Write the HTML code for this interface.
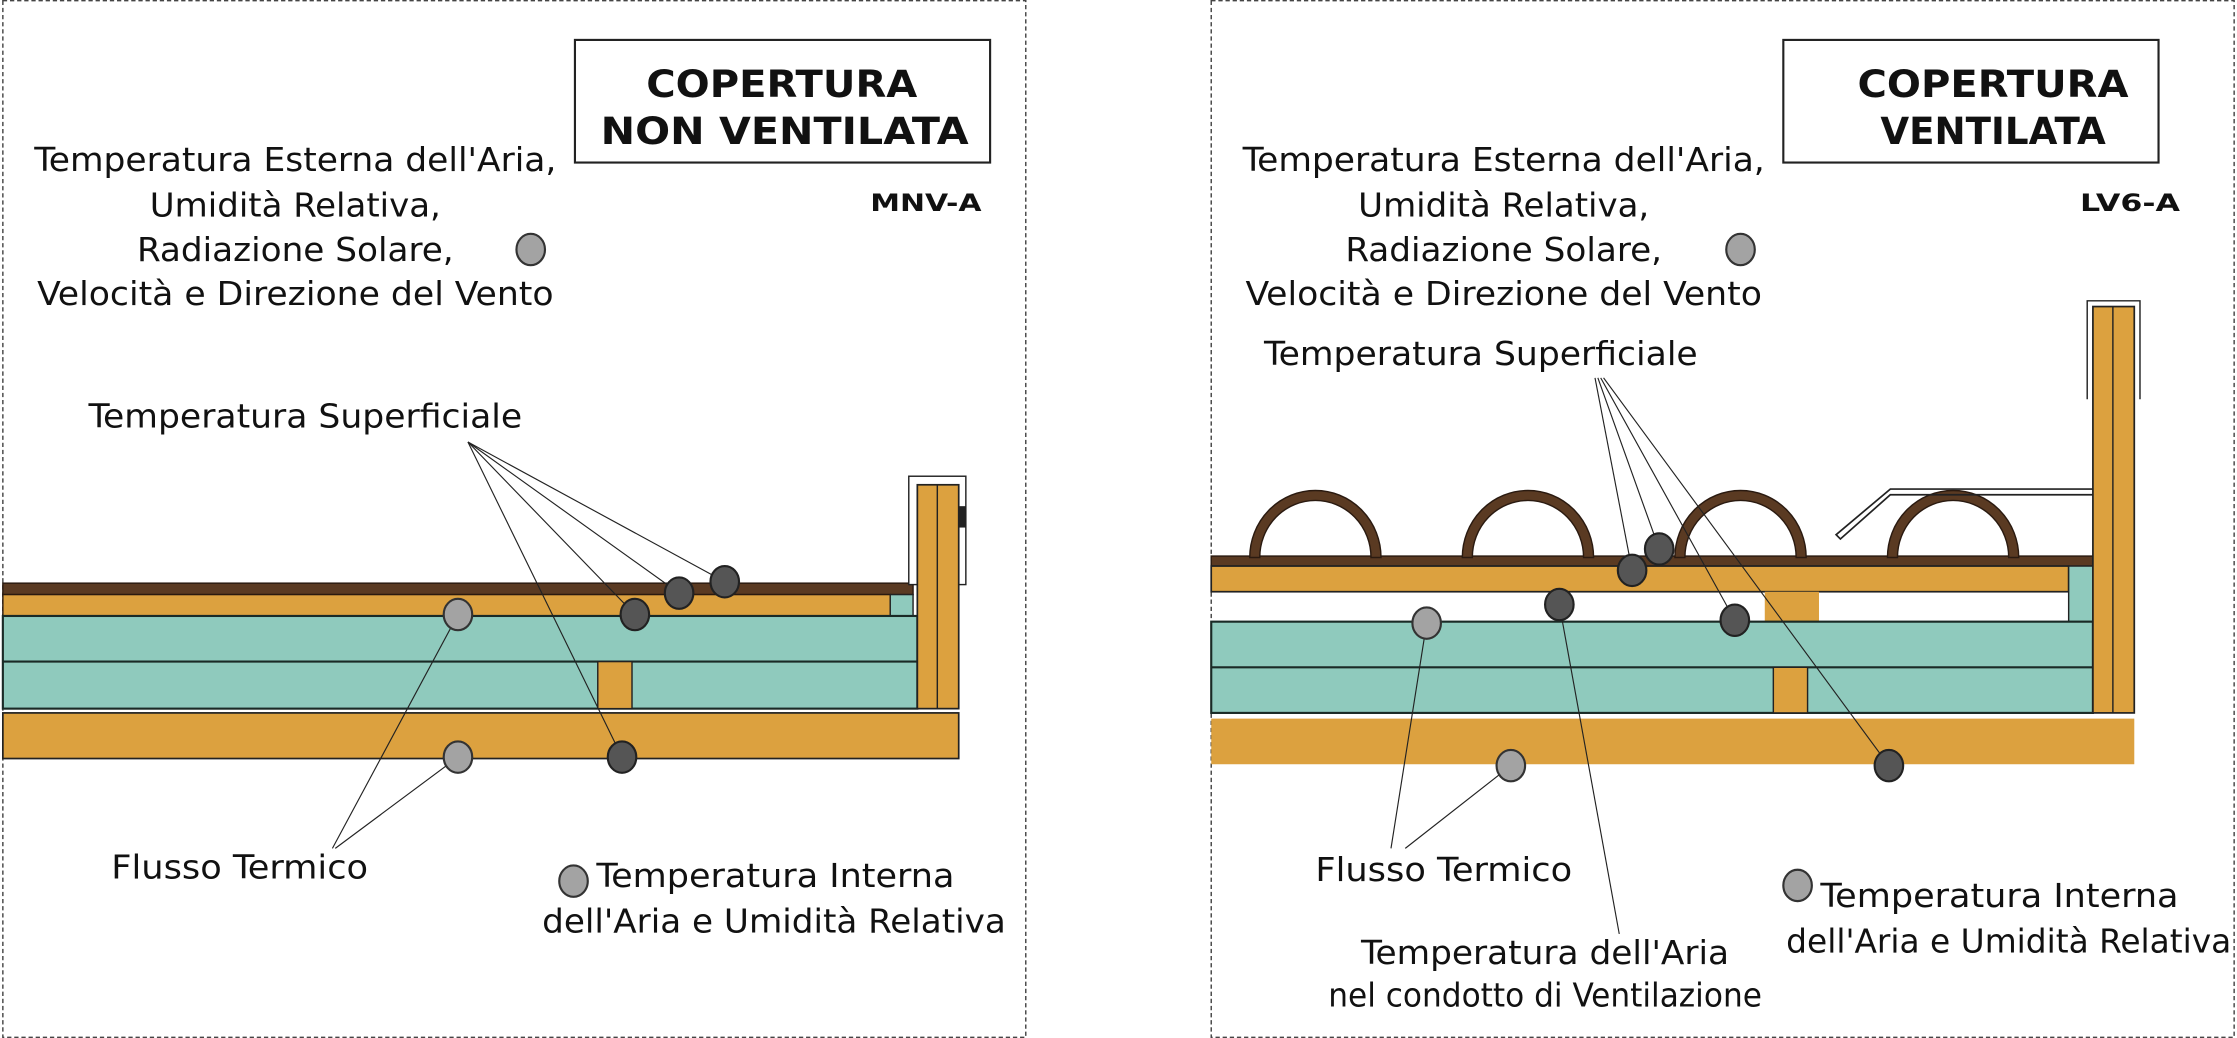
<!DOCTYPE html>
<html><head><meta charset="utf-8"><style>
html,body{margin:0;padding:0;background:#fff}
svg{display:block}
text{font-family:"DejaVu Sans Condensed","DejaVu Sans","Liberation Sans",sans-serif;fill:#111}
.t{font-size:23px}
.b{font-family:"DejaVu Sans","Liberation Sans",sans-serif;font-weight:bold;font-size:26px}
.s{font-family:"DejaVu Sans","Liberation Sans",sans-serif;font-weight:bold;font-size:17px}
</style></head><body>
<svg width="2237" height="1038" viewBox="0 0 1568 728" preserveAspectRatio="none" xmlns="http://www.w3.org/2000/svg">
<defs>
<g id="dl"><ellipse rx="10" ry="11" fill="#a3a3a3" stroke="#333" stroke-width="1.5"/></g>
<g id="dd"><ellipse rx="10" ry="11" fill="#555" stroke="#222" stroke-width="1.5"/></g>
<path id="arch" d="M0 0 A46 47 0 0 1 92 0 L85 0 A39 40 0 0 0 7 0 Z" fill="#5a3a22" stroke="#2a1a10" stroke-width="1"/>
</defs>
<rect x="2" y="0.5" width="717" height="727" fill="none" stroke="#444" stroke-dasharray="3,2" stroke-width="1"/>
<rect x="849" y="0.5" width="717" height="727" fill="none" stroke="#444" stroke-dasharray="3,2" stroke-width="1"/>

<!-- LEFT -->
<rect x="403" y="28" width="291" height="86" fill="#fff" stroke="#222" stroke-width="1.5"/>
<text class="b" x="548" y="68" text-anchor="middle" textLength="190" lengthAdjust="spacingAndGlyphs">COPERTURA</text>
<text class="b" x="550" y="101" text-anchor="middle" textLength="258" lengthAdjust="spacingAndGlyphs">NON VENTILATA</text>
<text class="s" x="610" y="148" textLength="78" lengthAdjust="spacingAndGlyphs">MNV-A</text>
<text class="t" x="207" y="120" text-anchor="middle" textLength="366" lengthAdjust="spacingAndGlyphs">Temperatura Esterna dell'Aria,</text>
<text class="t" x="207" y="152" text-anchor="middle" textLength="204" lengthAdjust="spacingAndGlyphs">Umidità Relativa,</text>
<text class="t" x="207" y="183" text-anchor="middle" textLength="222" lengthAdjust="spacingAndGlyphs">Radiazione Solare,</text>
<text class="t" x="207" y="214" text-anchor="middle" textLength="362" lengthAdjust="spacingAndGlyphs">Velocità e Direzione del Vento</text>
<use href="#dl" x="372" y="175"/>
<text class="t" x="62" y="300" textLength="304" lengthAdjust="spacingAndGlyphs">Temperatura Superficiale</text>

<rect x="2" y="409" width="638" height="8" fill="#5a3a22" stroke="#2a1a10" stroke-width="1"/>
<rect x="2" y="417" width="622" height="15" fill="#dca13f" stroke="#2a1a10" stroke-width="1"/>
<rect x="624" y="417" width="16" height="15" fill="#8fcabd" stroke="#222" stroke-width="1"/>
<rect x="2" y="432" width="641" height="65" fill="#8fcabd" stroke="#1a2a26" stroke-width="1.5"/>
<line x1="2" y1="464" x2="643" y2="464" stroke="#1a2a26" stroke-width="1.5"/>
<rect x="419" y="464" width="24" height="33" fill="#dca13f" stroke="#222" stroke-width="1"/>
<rect x="2" y="500" width="670" height="32" fill="#dca13f" stroke="#222" stroke-width="1.2"/>
<rect x="637" y="334" width="40" height="76" fill="#fff" stroke="#222" stroke-width="1"/>
<rect x="643" y="340" width="29" height="157" fill="#dca13f" stroke="#222" stroke-width="1.2"/>
<line x1="657" y1="340" x2="657" y2="497" stroke="#222" stroke-width="1"/>
<rect x="672" y="355" width="5" height="15" fill="#222"/>

<g stroke="#222" stroke-width="0.8" fill="none">
<line x1="328" y1="310" x2="508" y2="408"/>
<line x1="328" y1="310" x2="476" y2="416"/>
<line x1="328" y1="310" x2="445" y2="431"/>
<line x1="328" y1="310" x2="436" y2="531"/>
<line x1="233" y1="595" x2="321" y2="431"/>
<line x1="235" y1="595" x2="321" y2="531"/>
</g>
<use href="#dl" x="321" y="431"/><use href="#dl" x="321" y="531"/>
<use href="#dd" x="436" y="531"/><use href="#dd" x="445" y="431"/>
<use href="#dd" x="476" y="416"/><use href="#dd" x="508" y="408"/>
<text class="t" x="78" y="616" textLength="180" lengthAdjust="spacingAndGlyphs">Flusso Termico</text>
<use href="#dl" x="402" y="618"/>
<text class="t" x="418" y="622" textLength="251" lengthAdjust="spacingAndGlyphs">Temperatura Interna</text>
<text class="t" x="380" y="654" textLength="325" lengthAdjust="spacingAndGlyphs">dell'Aria e Umidità Relativa</text>

<!-- RIGHT -->
<rect x="1250" y="28" width="263" height="86" fill="#fff" stroke="#222" stroke-width="1.5"/>
<text class="b" x="1397" y="68" text-anchor="middle" textLength="190" lengthAdjust="spacingAndGlyphs">COPERTURA</text>
<text class="b" x="1397" y="101" text-anchor="middle" textLength="158" lengthAdjust="spacingAndGlyphs">VENTILATA</text>
<text class="s" x="1458" y="148" textLength="70" lengthAdjust="spacingAndGlyphs">LV6-A</text>
<text class="t" x="1054" y="120" text-anchor="middle" textLength="366" lengthAdjust="spacingAndGlyphs">Temperatura Esterna dell'Aria,</text>
<text class="t" x="1054" y="152" text-anchor="middle" textLength="204" lengthAdjust="spacingAndGlyphs">Umidità Relativa,</text>
<text class="t" x="1054" y="183" text-anchor="middle" textLength="222" lengthAdjust="spacingAndGlyphs">Radiazione Solare,</text>
<text class="t" x="1054" y="214" text-anchor="middle" textLength="362" lengthAdjust="spacingAndGlyphs">Velocità e Direzione del Vento</text>
<use href="#dl" x="1220" y="175"/>
<text class="t" x="886" y="256" textLength="304" lengthAdjust="spacingAndGlyphs">Temperatura Superficiale</text>

<rect x="849" y="390" width="618" height="7" fill="#5a3a22" stroke="#2a1a10" stroke-width="1"/>
<use href="#arch" x="876" y="391"/>
<use href="#arch" x="1025" y="391"/>
<use href="#arch" x="1174" y="391"/>
<use href="#arch" x="1323" y="391"/>
<rect x="849" y="397" width="601" height="18" fill="#dca13f" stroke="#222" stroke-width="1.2"/>
<rect x="1450" y="397" width="17" height="39" fill="#8fcabd" stroke="#222" stroke-width="1"/>
<rect x="1237" y="415" width="38" height="21" fill="#dca13f"/>
<rect x="849" y="436" width="618" height="64" fill="#8fcabd" stroke="#1a2a26" stroke-width="1.5"/>
<line x1="849" y1="468" x2="1467" y2="468" stroke="#1a2a26" stroke-width="1.5"/>
<rect x="1243" y="468" width="24" height="32" fill="#dca13f" stroke="#222" stroke-width="1"/>
<rect x="849" y="504" width="647" height="32" fill="#dca13f"/>
<polyline points="1463,280 1463,211 1500,211 1500,280" fill="none" stroke="#222" stroke-width="1"/>
<rect x="1467" y="215" width="29" height="285" fill="#dca13f" stroke="#222" stroke-width="1.2"/>
<line x1="1481" y1="215" x2="1481" y2="500" stroke="#222" stroke-width="1"/>
<path d="M1467 343 L1325 343 L1287 375 L1290 378 L1325 347 L1467 347" fill="none" stroke="#222" stroke-width="1.2"/>

<g stroke="#222" stroke-width="0.8" fill="none">
<line x1="1118" y1="265" x2="1144" y2="400"/>
<line x1="1120" y1="265" x2="1163" y2="385"/>
<line x1="1122" y1="265" x2="1216" y2="435"/>
<line x1="1124" y1="265" x2="1324" y2="537"/>
<line x1="975" y1="595" x2="1000" y2="437"/>
<line x1="985" y1="595" x2="1059" y2="537"/>
<line x1="1135" y1="655" x2="1093" y2="424"/>
</g>
<use href="#dl" x="1000" y="437"/><use href="#dl" x="1059" y="537"/>
<use href="#dd" x="1093" y="424"/><use href="#dd" x="1144" y="400"/>
<use href="#dd" x="1163" y="385"/><use href="#dd" x="1216" y="435"/>
<use href="#dd" x="1324" y="537"/>
<text class="t" x="922" y="618" textLength="180" lengthAdjust="spacingAndGlyphs">Flusso Termico</text>
<text class="t" x="1083" y="676" text-anchor="middle" textLength="258" lengthAdjust="spacingAndGlyphs">Temperatura dell'Aria</text>
<text class="t" x="1083" y="706" text-anchor="middle" textLength="304" lengthAdjust="spacingAndGlyphs">nel condotto di Ventilazione</text>
<use href="#dl" x="1260" y="621"/>
<text class="t" x="1276" y="636" textLength="251" lengthAdjust="spacingAndGlyphs">Temperatura Interna</text>
<text class="t" x="1252" y="668" textLength="312" lengthAdjust="spacingAndGlyphs">dell'Aria e Umidità Relativa</text>
</svg>
</body></html>
